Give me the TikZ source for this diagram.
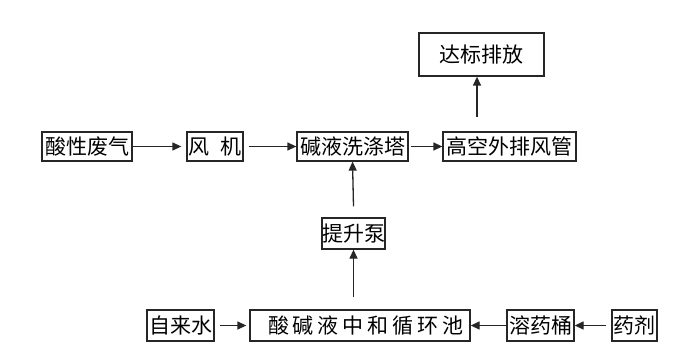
\documentclass[tikz,border=0pt]{standalone}
\usepackage{fontspec}
\setmainfont{Noto Sans CJK SC}
\usetikzlibrary{arrows.meta}
\newcommand{\gapch}{\hspace{4pt}}
\begin{document}
\begin{tikzpicture}[x=1pt,y=-1pt,
 box/.style={draw=black!85,line width=1.3pt,inner sep=0pt,font=\fontsize{21}{21}\selectfont},
 arr/.style={draw=black!85,line width=1.3pt,-{Triangle[length=9pt,width=8pt]}}]
\useasboundingbox[fill=white] (0,0) rectangle (700,350);
\node[box,minimum width=90,minimum height=29] (a) at (87,146.5) {酸性废气};
\node[box,minimum width=56,minimum height=29] (fj) at (215,146.5) {风\hspace{12pt}机};
\node[box,minimum width=111,minimum height=29] (t) at (352.5,146.5) {碱液洗涤塔};
\node[box,minimum width=133,minimum height=29] (gk) at (509.5,146.5) {高空外排风管};
\node[box,minimum width=125,minimum height=43] (db) at (481.5,54.5) {达标排放};
\node[box,minimum width=63,minimum height=31] (pump) at (353.5,233.5) {提升泵};
\node[box,minimum width=67,minimum height=31] (water) at (180.5,325.5) {自来水};
\node[box,minimum width=220,minimum height=31] (pool) at (360,325.5) {\hspace*{12pt}酸\gapch 碱\gapch 液\gapch 中\gapch 和\gapch 循\gapch 环\gapch 池};
\node[box,minimum width=67,minimum height=31] (rong) at (540.5,325.5) {溶药桶};
\node[box,minimum width=45,minimum height=31] (yj) at (634.5,325.5) {药剂};
\coordinate (up) at (477,117);
\draw[arr] (a.east) -- ([xshift=-5pt]fj.west);
\draw[arr] ([xshift=5pt]fj.east) -- (t.west);
\draw[arr] ([xshift=2pt]t.east) -- (gk.west);
\draw[arr] (up) -- (up |- db.south);
\draw[arr] ([yshift=11pt]pump.north) -- (t.south);
\draw[arr] ([yshift=12pt]pool.north -| pump) -- (pump.south);
\draw[arr] ([xshift=5pt]water.east) -- ([xshift=-3pt]pool.west);
\draw[arr] (rong.west) -- (pool.east);
\draw[arr] ([xshift=-5pt]yj.west) -- (rong.east);
\end{tikzpicture}
\end{document}
